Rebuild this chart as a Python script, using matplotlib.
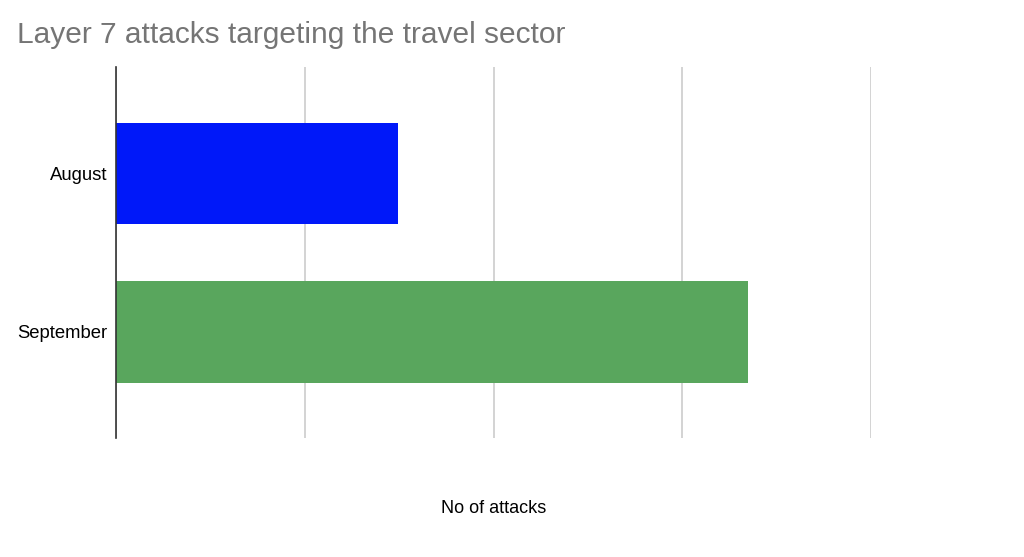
import matplotlib.pyplot as plt

months = ["August", "September"]
attacks = [1.495, 3.35]
colors = ["#0018f9", "#59a65d"]

plt.rcParams['font.family'] = ['Liberation Sans', 'DejaVu Sans']

fig = plt.figure(figsize=(10.24, 5.57), dpi=100)
ax = fig.add_axes([0.1133, 0.2136, 0.7373, 0.666])

ypos = list(range(len(months)))
ax.barh(ypos, attacks, height=0.64, color=colors, zorder=3)

ax.set_xlim(0, 4)
ax.set_ylim(1.67, -0.67)
ax.set_xticks([0, 1, 2, 3, 4])
ax.set_xticklabels([])
ax.tick_params(axis='x', length=0)
ax.tick_params(axis='y', length=0, pad=6, labelsize=13.3)
ax.set_yticks(ypos)
ax.set_yticklabels(months)
ax.grid(axis='x', color='#cccccc', linewidth=1.2, zorder=0)

for s in ['top', 'right', 'bottom']:
    ax.spines[s].set_visible(False)
ax.spines['left'].set_color('#333333')
ax.spines['left'].set_linewidth(1.2)
ax.spines['left'].set_zorder(4)

ax.set_xlabel("No of attacks", fontsize=13, labelpad=41)
fig.text(0.0166, 0.937, "Layer 7 attacks targeting the travel sector",
         fontsize=21.5, color='#757575', va='center', ha='left')

fig.savefig("out.png", dpi=100)
